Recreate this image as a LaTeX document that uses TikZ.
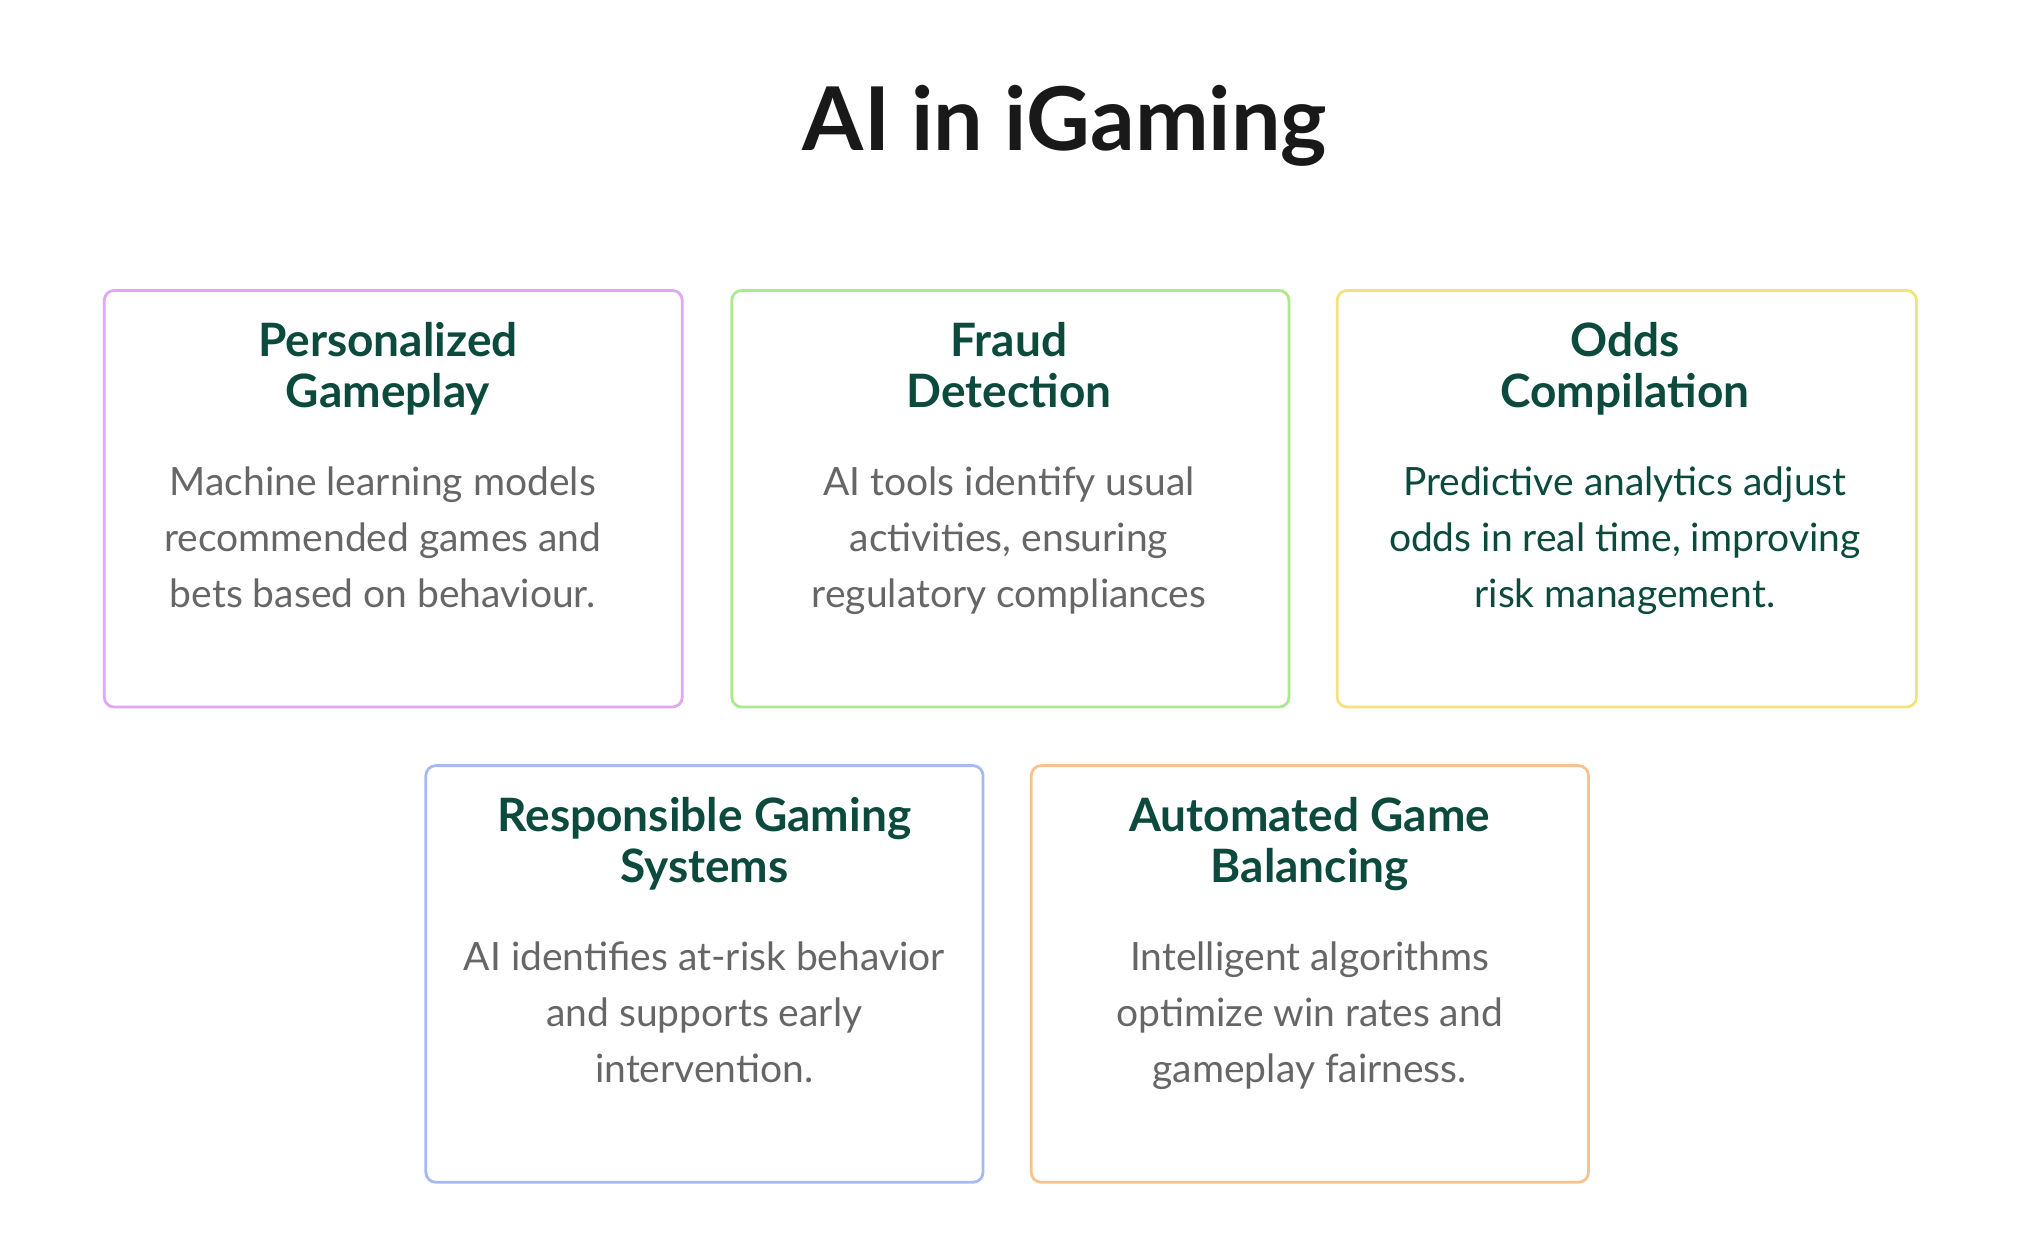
\documentclass[tikz,border=0pt]{standalone}
\usepackage{fontspec}
\setmainfont{Lato}
\definecolor{hd}{HTML}{0B4A3C}
\definecolor{bd}{HTML}{666666}
\definecolor{cp}{HTML}{DDA8F6}
\definecolor{cg}{HTML}{ABE88E}
\definecolor{cy}{HTML}{F5E27C}
\definecolor{cb}{HTML}{A6B9F5}
\definecolor{co}{HTML}{F8C28E}
\begin{document}
\begin{tikzpicture}[x=0.651pt,y=-0.651pt,
 card/.style={draw=#1,line width=1.4pt,rounded corners=5pt,anchor=north west,inner sep=0pt},
 head/.style={text=hd,font=\fontsize{23}{25.5}\selectfont\bfseries,align=center,anchor=north},
 body/.style={text=bd,font=\fontsize{19.5}{28}\selectfont,align=center,anchor=north}]
\useasboundingbox (0,0) rectangle (1560,960);
\node[font=\fontsize{44}{50}\selectfont\bfseries,text=black!90] (title) at (818,97) {AI in iGaming};
\node[card=cp,minimum width=444*0.651pt,minimum height=320*0.651pt] (b1) at (79,222) {};
\node[card=cg,minimum width=428*0.651pt,minimum height=320*0.651pt] (b2) at (561,222) {};
\node[card=cy,minimum width=445*0.651pt,minimum height=320*0.651pt] (b3) at (1026,222) {};
\node[card=cb,minimum width=428*0.651pt,minimum height=320*0.651pt] (b4) at (326,587) {};
\node[card=co,minimum width=428*0.651pt,minimum height=320*0.651pt] (b5) at (791,587) {};
\node[head] (h1) at (298,242) {Personalized\\Gameplay};
\node[body] (t1) at (294,353) {Machine learning models\\recommended games and\\bets based on behaviour.};
\node[head] (h2) at (775,242) {Fraud\\Detection};
\node[body] (t2) at (775,353) {AI tools identify usual\\activities, ensuring\\regulatory compliances};
\node[head] (h3) at (1248,242) {Odds\\Compilation};
\node[body,text=hd] (t3) at (1248,353) {Predictive analytics adjust\\odds in real time, improving\\risk management.};
\node[head] (h4) at (541,607) {Responsible Gaming\\Systems};
\node[body] (t4) at (541,718) {AI identifies at-risk behavior\\and supports early\\intervention.};
\node[head] (h5) at (1006,607) {Automated Game\\Balancing};
\node[body] (t5) at (1006,718) {Intelligent algorithms\\optimize win rates and\\gameplay fairness.};
\end{tikzpicture}
\end{document}
